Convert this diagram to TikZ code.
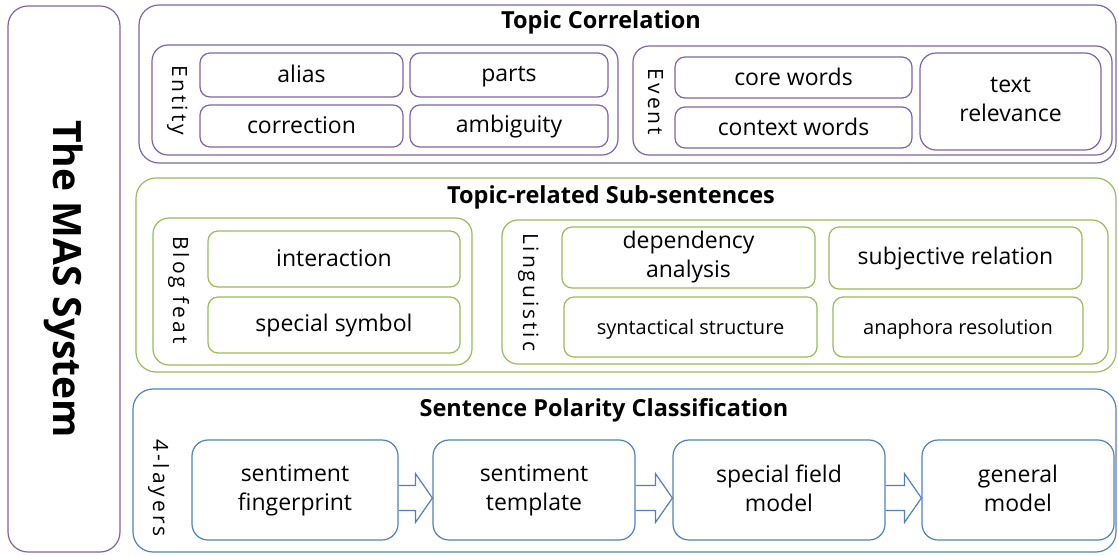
\documentclass[tikz,border=0pt]{standalone}
\usepackage{fontspec}
\setmainfont{Open Sans}
\newfontfamily\sidefont[LetterSpace=14]{Open Sans}
\definecolor{tcpurple}{RGB}{128,100,162}
\definecolor{tsgreen}{RGB}{155,187,89}
\definecolor{spblue}{RGB}{79,129,189}
\newcommand{\itemfont}{\fontsize{23}{29}\selectfont}
\newcommand{\smallitemfont}{\fontsize{20}{24}\selectfont}
\newcommand{\headfont}{\fontsize{23.5}{27}\selectfont\bfseries}
\newcommand{\boxstrut}{\rule[-4pt]{0pt}{23pt}}
\tikzset{
  layerbox/.style={draw, line width=1.2pt, rounded corners=20pt},
  groupbox/.style={draw, line width=1.2pt, rounded corners=16pt},
  itembox/.style={draw, line width=1.2pt, rounded corners=10pt, font=\itemfont, align=center,
    execute at begin node=\boxstrut, execute at end node=\boxstrut},
  stagebox/.style={itembox, rounded corners=16pt},
  headtext/.style={font=\headfont, execute at begin node=\boxstrut},
  sidetext/.style={rotate=-90, font=\sidefont\fontsize{21}{25}\selectfont, execute at begin node=\strut},
  flowarrow/.style={draw=spblue, line width=1.2pt, line join=miter}
}

\begin{document}
\begin{tikzpicture}[x=1pt,y=-1pt]
\tikzstyle{every node}+=[inner sep=0pt]
\useasboundingbox (0,0) rectangle (1118,555);
% system column
\node [layerbox, draw=tcpurple, rotate=-90, minimum width=546, minimum height=112,
  font=\fontsize{39}{43}\selectfont\bfseries] (mas) at (64,279) {The MAS System};
% topic correlation
\node [layerbox, draw=tcpurple, minimum width=977, minimum height=158] (tc) at (627.5,84) {};
\node [headtext] (tcHead) at (601,22) {Topic Correlation};
\node [groupbox, draw=tcpurple, minimum width=466, minimum height=110] (entity) at (385,100) {};
\node [sidetext] (entityLabel) at (177,100) {Entity};
\node [itembox, draw=tcpurple, minimum width=203, minimum height=44] (alias) at (301.5,75) {alias};
\node [itembox, draw=tcpurple, minimum width=198, minimum height=44] (parts) at (509,75) {parts};
\node [itembox, draw=tcpurple, minimum width=203, minimum height=42] (correction) at (301.5,126) {correction};
\node [itembox, draw=tcpurple, minimum width=198, minimum height=42] (ambiguity) at (509,126) {ambiguity};
\node [groupbox, draw=tcpurple, minimum width=479, minimum height=109] (event) at (872.5,100.5) {};
\node [sidetext] (eventLabel) at (653,102) {Event};
\node [itembox, draw=tcpurple, minimum width=237, minimum height=41] (core) at (793.5,77.5) {core words};
\node [itembox, draw=tcpurple, minimum width=237, minimum height=41] (context) at (793.5,127.5) {context words};
\node [itembox, draw=tcpurple, rounded corners=16pt, minimum width=181, minimum height=97] (relevance) at (1010.5,101.5) {text\\relevance};
% topic-related sub-sentences
\node [layerbox, draw=tsgreen, minimum width=980, minimum height=194] (ts) at (626,275) {};
\node [headtext] (tsHead) at (611,197) {Topic-related Sub-sentences};
\node [groupbox, draw=tsgreen, minimum width=319, minimum height=147] (blog) at (312.5,291.5) {};
\node [sidetext] (blogLabel) at (178,290) {Blog feat};
\node [itembox, draw=tsgreen, minimum width=252, minimum height=56] (interaction) at (334,259) {interaction};
\node [itembox, draw=tsgreen, minimum width=252, minimum height=56] (symbol) at (334,325) {special symbol};
\node [groupbox, draw=tsgreen, minimum width=606, minimum height=144] (ling) at (805,292) {};
\node [sidetext] (lingLabel) at (528,292) {Linguistic};
\node [itembox, draw=tsgreen, minimum width=253, minimum height=61] (dependency) at (688.5,257.5) {dependency\\analysis};
\node [itembox, draw=tsgreen, minimum width=253, minimum height=62] (subjective) at (955.5,258) {subjective relation};
\node [itembox, draw=tsgreen, minimum width=253, minimum height=60, font=\smallitemfont] (syntax) at (690.5,327) {syntactical structure};
\node [itembox, draw=tsgreen, minimum width=250, minimum height=60, font=\smallitemfont] (anaphora) at (958,327) {anaphora resolution};
% sentence polarity classification
\node [layerbox, draw=spblue, minimum width=983, minimum height=163] (sp) at (624.5,470.5) {};
\node [headtext] (spHead) at (604,410) {Sentence Polarity Classification};
\node [sidetext] (layersLabel) at (158,488) {4-layers};
\node [stagebox, draw=spblue, minimum width=206, minimum height=100] (fingerprint) at (295,490) {sentiment\\fingerprint};
\node [stagebox, draw=spblue, minimum width=202, minimum height=100] (template) at (534,490) {sentiment\\template};
\node [stagebox, draw=spblue, minimum width=212, minimum height=100] (field) at (779,490) {special field\\model};
\node [stagebox, draw=spblue, minimum width=192, minimum height=100] (general) at (1018,490) {general\\model};
\draw [flowarrow] ([yshift=4.5]fingerprint.east) -- ([xshift=-17,yshift=4.5]template.west) -- ([xshift=-17,yshift=16.5]template.west) -- ([yshift=-8]template.west) -- ([xshift=-17,yshift=-32.5]template.west) -- ([xshift=-17,yshift=-20.5]template.west) -- ([yshift=-20.5]fingerprint.east);
\draw [flowarrow] ([yshift=4.5]template.east) -- ([xshift=-17,yshift=4.5]field.west) -- ([xshift=-17,yshift=16.5]field.west) -- ([yshift=-8]field.west) -- ([xshift=-17,yshift=-32.5]field.west) -- ([xshift=-17,yshift=-20.5]field.west) -- ([yshift=-20.5]template.east);
\draw [flowarrow] ([yshift=4.5]field.east) -- ([xshift=-17,yshift=4.5]general.west) -- ([xshift=-17,yshift=16.5]general.west) -- ([yshift=-8]general.west) -- ([xshift=-17,yshift=-32.5]general.west) -- ([xshift=-17,yshift=-20.5]general.west) -- ([yshift=-20.5]field.east);
\end{tikzpicture}
\end{document}
